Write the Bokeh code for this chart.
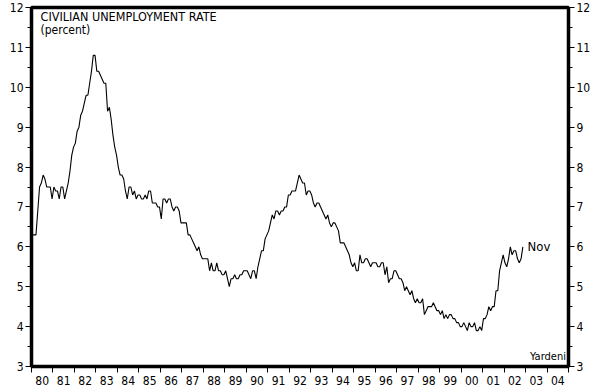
from bokeh.plotting import figure
from bokeh.models import FixedTicker, LinearAxis, Label, Range1d, ColumnDataSource
from bokeh.embed import file_html
from bokeh.resources import INLINE

# ---- data -------------------------------------------------------------
years = list(range(1980, 2005))
year_labels = ["80", "81", "82", "83", "84", "85", "86", "87", "88", "89",
               "90", "91", "92", "93", "94", "95", "96", "97", "98", "99",
               "00", "01", "02", "03", "04"]
y_ticks = [3, 4, 5, 6, 7, 8, 9, 10, 11, 12]

# monthly civilian unemployment rate (percent), Jan 1980 .. Nov 2002
rate_1980s = [
    6.3, 6.3, 6.3, 6.9, 7.5, 7.6, 7.8, 7.7, 7.5, 7.5, 7.5, 7.2,   # 1980
    7.5, 7.4, 7.4, 7.2, 7.5, 7.5, 7.2, 7.4, 7.6, 7.9, 8.3, 8.5,   # 1981
    8.6, 8.9, 9.0, 9.3, 9.4, 9.6, 9.8, 9.8, 10.1, 10.4, 10.8, 10.8,  # 1982
    10.4, 10.4, 10.3, 10.2, 10.1, 10.1, 9.4, 9.5, 9.2, 8.8, 8.5, 8.3,  # 1983
    8.0, 7.8, 7.8, 7.7, 7.4, 7.2, 7.5, 7.5, 7.3, 7.4, 7.2, 7.3,   # 1984
    7.3, 7.2, 7.2, 7.3, 7.2, 7.4, 7.4, 7.1, 7.1, 7.1, 7.0, 7.0,   # 1985
    6.7, 7.2, 7.2, 7.1, 7.2, 7.2, 7.0, 6.9, 7.0, 7.0, 6.9, 6.6,   # 1986
    6.6, 6.6, 6.6, 6.3, 6.3, 6.2, 6.1, 6.0, 5.9, 6.0, 5.8, 5.7,   # 1987
    5.7, 5.7, 5.7, 5.4, 5.6, 5.4, 5.4, 5.6, 5.4, 5.4, 5.3, 5.3,   # 1988
    5.4, 5.2, 5.0, 5.2, 5.2, 5.3, 5.2, 5.2, 5.3, 5.3, 5.4, 5.4,   # 1989
]
rate_1990s = [
    5.4, 5.3, 5.2, 5.4, 5.4, 5.2, 5.5, 5.7, 5.9, 5.9, 6.2, 6.3,   # 1990
    6.4, 6.6, 6.8, 6.7, 6.9, 6.9, 6.8, 6.9, 6.9, 7.0, 7.0, 7.3,   # 1991
    7.3, 7.4, 7.4, 7.4, 7.6, 7.8, 7.7, 7.6, 7.6, 7.3, 7.4, 7.4,   # 1992
    7.3, 7.1, 7.0, 7.1, 7.1, 7.0, 6.9, 6.8, 6.7, 6.8, 6.6, 6.5,   # 1993
    6.6, 6.6, 6.5, 6.4, 6.1, 6.1, 6.1, 6.0, 5.9, 5.8, 5.6, 5.5,   # 1994
    5.6, 5.4, 5.4, 5.8, 5.6, 5.6, 5.7, 5.7, 5.6, 5.5, 5.6, 5.6,   # 1995
    5.6, 5.5, 5.5, 5.6, 5.6, 5.3, 5.5, 5.1, 5.2, 5.2, 5.4, 5.4,   # 1996
    5.3, 5.2, 5.2, 5.1, 4.9, 5.0, 4.9, 4.8, 4.9, 4.7, 4.6, 4.7,   # 1997
    4.6, 4.6, 4.7, 4.3, 4.4, 4.5, 4.5, 4.5, 4.6, 4.5, 4.4, 4.4,   # 1998
    4.3, 4.4, 4.2, 4.3, 4.2, 4.3, 4.3, 4.2, 4.2, 4.1, 4.1, 4.0,   # 1999
]
rate_2000s = [
    4.0, 4.1, 4.0, 3.9, 4.1, 4.0, 4.0, 4.1, 3.9, 3.9, 4.0, 3.9,   # 2000
    4.2, 4.2, 4.3, 4.5, 4.4, 4.5, 4.5, 4.9, 4.9, 5.4, 5.6, 5.8,   # 2001
    5.6, 5.5, 5.7, 6.0, 5.8, 5.9, 5.9, 5.7, 5.6, 5.7, 6.0,        # 2002
]
last_month_label = "Nov"
title_text = "CIVILIAN UNEMPLOYMENT RATE"
subtitle_text = "(percent)"
source_text = "Yardeni"

rates = rate_1980s + rate_1990s + rate_2000s
xs = [years[0] + (i + 0.5) / 12.0 for i in range(len(rates))]

FONT = "'Liberation Sans Narrow', 'DejaVu Sans Condensed', 'Roboto Condensed', 'Liberation Sans', sans-serif"

# ---- figure -----------------------------------------------------------
p = figure(width=599, height=389,
           x_range=Range1d(years[0], years[-1] + 1),
           y_range=Range1d(y_ticks[0], y_ticks[-1]),
           x_axis_type=None, y_axis_type=None,
           output_backend="svg", toolbar_location=None,
           min_border_left=31, min_border_right=31,
           min_border_top=7, min_border_bottom=23)
p.xgrid.visible = False
p.ygrid.visible = False
p.outline_line_color = "black"
p.outline_line_width = 3.5
p.background_fill_color = "white"
p.border_fill_color = "white"

src = ColumnDataSource(dict(x=xs, y=rates))
p.line("x", "y", source=src, line_color="black", line_width=1.1)

def y_axis():
    ax = LinearAxis(ticker=FixedTicker(ticks=y_ticks,
                                       minor_ticks=[t + 0.5 for t in y_ticks[:-1]]))
    ax.axis_line_color = None
    ax.major_tick_in = 0
    ax.major_tick_out = 6
    ax.minor_tick_in = 0
    ax.minor_tick_out = 4
    ax.major_tick_line_color = "black"
    ax.minor_tick_line_color = "black"
    ax.major_label_standoff = 2
    ax.major_label_text_font = FONT
    ax.major_label_text_font_size = "12px"
    ax.major_label_text_color = "black"
    return ax

p.add_layout(y_axis(), "left")
p.add_layout(y_axis(), "right")

mids = [y + 0.5 for y in years]
xax = LinearAxis(ticker=FixedTicker(ticks=mids, minor_ticks=years + [years[-1] + 1]))
xax.axis_line_color = None
xax.major_tick_in = 0
xax.major_tick_out = 0
xax.minor_tick_in = 0
xax.minor_tick_out = 6
xax.minor_tick_line_color = "black"
xax.major_label_standoff = 3
xax.major_label_overrides = {m: lab for m, lab in zip(mids, year_labels)}
xax.major_label_text_font = FONT
xax.major_label_text_font_size = "12px"
xax.major_label_text_color = "black"
p.add_layout(xax, "below")

p.add_layout(Label(x=years[0] + 0.42, y=11.95, text=title_text,
                   text_font=FONT, text_font_size="12.5px", text_color="black",
                   text_baseline="top", text_align="left"))
p.add_layout(Label(x=years[0] + 0.42, y=11.62, text=subtitle_text,
                   text_font=FONT, text_font_size="12px", text_color="black",
                   text_baseline="top", text_align="left"))
p.add_layout(Label(x=xs[-1] + 0.22, y=rates[-1] + 0.02, text=last_month_label,
                   text_font=FONT, text_font_size="13px", text_color="black",
                   text_baseline="middle", text_align="left"))
p.add_layout(Label(x=years[-1] + 0.88, y=y_ticks[0] + 0.08, text=source_text,
                   text_font=FONT, text_font_size="11px", text_color="black",
                   text_baseline="bottom", text_align="right"))

open("out.html", "w").write(file_html(p, INLINE))
